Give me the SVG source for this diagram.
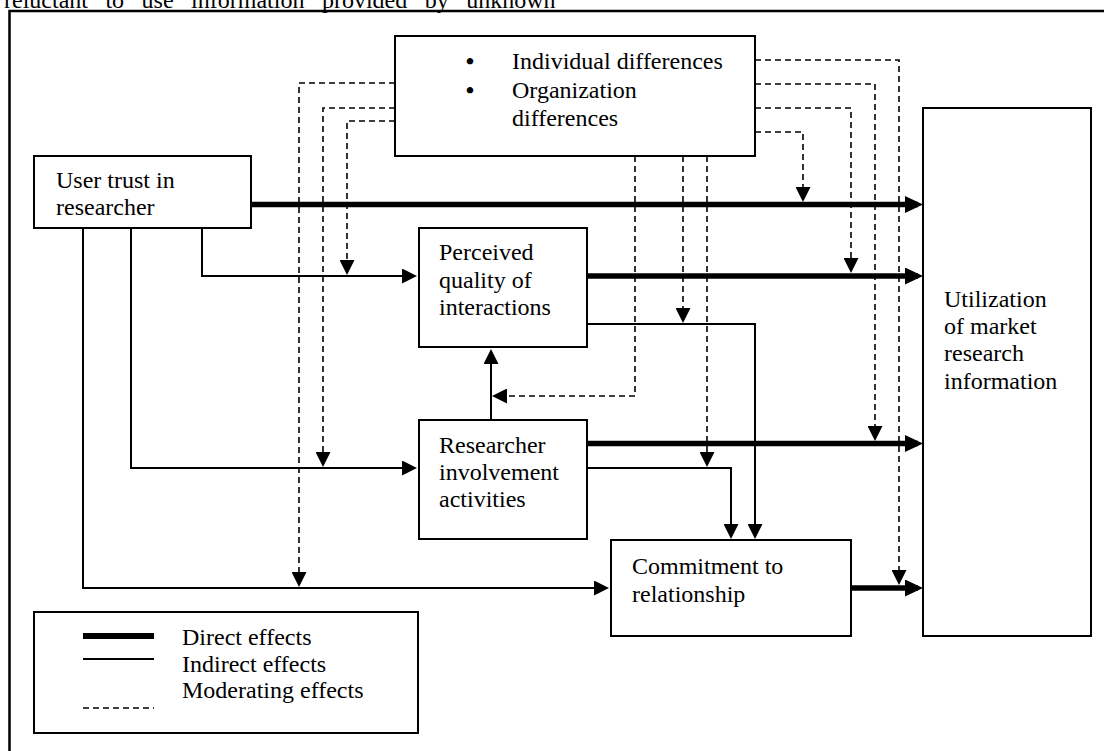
<svg xmlns="http://www.w3.org/2000/svg" width="1104" height="751" viewBox="0 0 1104 751">
<style>
.box{fill:#fff;stroke:#000;stroke-width:2}
.t{font-family:"Liberation Serif","Times New Roman",serif;font-size:24px;fill:#000}
.thick{fill:none;stroke:#000;stroke-width:5.5}
.thin{fill:none;stroke:#000;stroke-width:2}
.dash{fill:none;stroke:#000;stroke-width:1.6;stroke-dasharray:6 4}
</style>
<defs>
<marker id="ah" markerUnits="userSpaceOnUse" markerWidth="15" markerHeight="15" viewBox="0 0 15 15" refX="12" refY="7.5" orient="auto"><path d="M0,0 L15,7.5 L0,15 z" fill="#000"/></marker>
<marker id="ahT" markerUnits="userSpaceOnUse" markerWidth="18" markerHeight="17" viewBox="0 0 18 17" refX="13" refY="8.5" orient="auto"><path d="M0,0 L18,8.5 L0,17 z" fill="#000"/></marker>
</defs>
<rect width="1104" height="751" fill="#fff"/>
<text class="t" x="4" y="8" word-spacing="11.5">reluctant to use information provided by unknown</text>
<path d="M9.5,751 V11 H1104" fill="none" stroke="#000" stroke-width="2.5"/>

<g id="connectors">
<path class="thick" d="M251,204.5 H918" marker-end="url(#ahT)"/>
<path class="thick" d="M587,276 H918" marker-end="url(#ahT)"/>
<path class="thick" d="M587,443.5 H918" marker-end="url(#ahT)"/>
<path class="thick" d="M851,588 H918" marker-end="url(#ahT)"/>
<path class="thin" d="M202,228 V276 H414" marker-end="url(#ah)"/>
<path class="thin" d="M131,228 V468 H414" marker-end="url(#ah)"/>
<path class="thin" d="M83,228 V588 H606" marker-end="url(#ah)"/>
<path class="thin" d="M587,324 H755 V536" marker-end="url(#ah)"/>
<path class="thin" d="M587,468 H731 V536" marker-end="url(#ah)"/>
<path class="thin" d="M491,420 V352" marker-end="url(#ah)"/>
<path class="dash" d="M395,83 H299 V584" marker-end="url(#ah)"/>
<path class="dash" d="M395,108 H323 V464" marker-end="url(#ah)"/>
<path class="dash" d="M395,121 H347 V272" marker-end="url(#ah)"/>
<path class="dash" d="M755,60 H899 V582" marker-end="url(#ah)"/>
<path class="dash" d="M755,84 H875 V438" marker-end="url(#ah)"/>
<path class="dash" d="M755,108 H851 V270" marker-end="url(#ah)"/>
<path class="dash" d="M755,132 H803 V199" marker-end="url(#ah)"/>
<path class="dash" d="M635,156 V396 H495" marker-end="url(#ah)"/>
<path class="dash" d="M683,156 V320" marker-end="url(#ah)"/>
<path class="dash" d="M707,156 V464" marker-end="url(#ah)"/>
</g>

<g id="moderators">
<rect class="box" x="395" y="36" width="360" height="120"/>
<text class="t" x="470" y="69" text-anchor="middle" style="font-weight:bold">•</text>
<text class="t" x="470" y="97.5" text-anchor="middle" style="font-weight:bold">•</text>
<text class="t" x="512" y="69">Individual differences</text>
<text class="t" x="512" y="97.5">Organization</text>
<text class="t" x="512" y="126">differences</text>
</g>

<g id="user-trust">
<rect class="box" x="34" y="156" width="217" height="72"/>
<text class="t" x="56" y="188">User trust in</text>
<text class="t" x="56" y="215">researcher</text>
</g>

<g id="perceived-quality">
<rect class="box" x="419" y="228" width="168" height="119"/>
<text class="t" x="439" y="260">Perceived</text>
<text class="t" x="439" y="287.5">quality of</text>
<text class="t" x="439" y="315">interactions</text>
</g>

<g id="researcher-involvement">
<rect class="box" x="419" y="420" width="168" height="119"/>
<text class="t" x="439" y="453">Researcher</text>
<text class="t" x="439" y="480">involvement</text>
<text class="t" x="439" y="507">activities</text>
</g>

<g id="commitment">
<rect class="box" x="611" y="540" width="240" height="96"/>
<text class="t" x="632" y="574">Commitment to</text>
<text class="t" x="632" y="601.5">relationship</text>
</g>

<g id="utilization">
<rect class="box" x="923" y="108" width="168" height="528"/>
<text class="t" x="944" y="307">Utilization</text>
<text class="t" x="944" y="334">of market</text>
<text class="t" x="944" y="361">research</text>
<text class="t" x="944" y="389">information</text>
</g>

<g id="legend">
<rect class="box" x="34" y="612" width="384" height="121"/>
<line x1="83" y1="636" x2="154" y2="636" stroke="#000" stroke-width="6"/>
<line x1="83" y1="659" x2="154" y2="659" stroke="#000" stroke-width="2"/>
<line x1="83" y1="708" x2="154" y2="708" class="dash"/>
<text class="t" x="182" y="645">Direct effects</text>
<text class="t" x="182" y="672">Indirect effects</text>
<text class="t" x="182" y="698">Moderating effects</text>
</g>
</svg>
